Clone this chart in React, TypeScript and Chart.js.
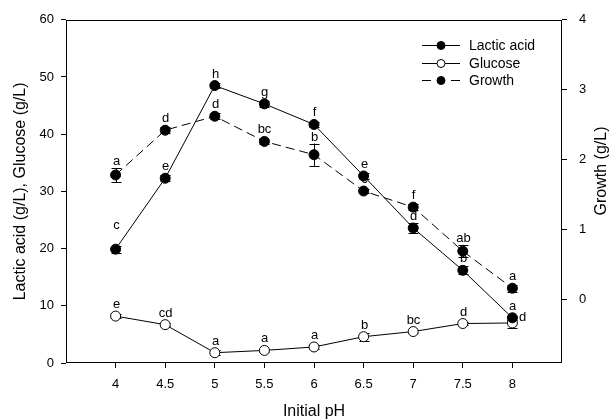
import React, { useEffect, useRef } from "react";
import { Chart, registerables } from "chart.js";

Chart.register(...registerables);

// ---- data ----
const phValues = [4, 4.5, 5, 5.5, 6, 6.5, 7, 7.5, 8];

const lacticAcid = [19.9, 32.3, 48.5, 45.3, 41.7, 32.7, 23.6, 16.2, 7.9];
const lacticErr = [0.6, 0.5, 0.5, 0.5, 0.4, 0.5, 0.9, 0.7, 0.3];
const lacticLetters = ["c", "e", "h", "g", "f", "e", "d", "b", "a"];

const glucose = [8.2, 6.7, 1.8, 2.2, 2.8, 4.6, 5.5, 6.9, 7.0];
const glucoseErr = [0.3, 0.3, 0.4, 0.3, 0.3, 0.7, 0.3, 0.3, 0.8];
const glucoseLetters = ["e", "cd", "a", "a", "a", "b", "bc", "d", "d"];

const growth = [1.78, 2.42, 2.62, 2.26, 2.07, 1.55, 1.32, 0.69, 0.16];
const growthErr = [0.1, 0.04, 0.04, 0.04, 0.16, 0.03, 0.04, 0.09, 0.05];
const growthLetters = ["a", "d", "d", "bc", "b", "c", "f", "ab", "a"];

const xTicks = [4, 4.5, 5, 5.5, 6, 6.5, 7, 7.5, 8];
const leftTicks = [0, 10, 20, 30, 40, 50, 60];
const rightTicks = [0, 1, 2, 3, 4];

const seriesNames = ["Lactic acid", "Glucose", "Growth"];
const rightTitle = "Growth (g/L)";

const FONT = "Arial, 'Liberation Sans', sans-serif";

const labelNudges: Record<string, [number, number]> = {
  "0-0": [0, -12],
  "1-8": [10, 6],
};

const series = [
  { values: lacticAcid, errors: lacticErr, letters: lacticLetters, axis: "y", fill: "#000000", dash: [] as number[] },
  { values: glucose, errors: glucoseErr, letters: glucoseLetters, axis: "y", fill: "#ffffff", dash: [] as number[] },
  { values: growth, errors: growthErr, letters: growthLetters, axis: "y1", fill: "#000000", dash: [9, 5] },
];

const extrasPlugin = {
  id: "extras",
  beforeDatasetsDraw(chart: any) {
    const ctx = chart.ctx;
    const xs = chart.scales.x;
    ctx.save();
    ctx.strokeStyle = "#000";
    ctx.fillStyle = "#000";
    ctx.lineWidth = 1;
    ctx.font = `13px ${FONT}`;
    ctx.textAlign = "center";
    ctx.textBaseline = "alphabetic";
    series.forEach((s, si) => {
      const ys = chart.scales[s.axis];
      s.values.forEach((v, i) => {
        const px = Math.round(xs.getPixelForValue(phValues[i])) + 0.5;
        const py = ys.getPixelForValue(v);
        const top = ys.getPixelForValue(v + s.errors[i]);
        const bot = ys.getPixelForValue(v - s.errors[i]);
        ctx.beginPath();
        ctx.moveTo(px, top);
        ctx.lineTo(px, bot);
        ctx.moveTo(px - 5, Math.round(top) + 0.5);
        ctx.lineTo(px + 5, Math.round(top) + 0.5);
        ctx.moveTo(px - 5, Math.round(bot) + 0.5);
        ctx.lineTo(px + 5, Math.round(bot) + 0.5);
        ctx.stroke();
        const errPx = py - top;
        const nudge = labelNudges[`${si}-${i}`] || [0, 0];
        const baseY = errPx > 5 ? top - 3 : py - 8;
        ctx.fillText(s.letters[i], px + nudge[0], baseY + nudge[1]);
      });
    });
    ctx.restore();
  },
  afterDraw(chart: any) {
    const ctx = chart.ctx;
    const a = chart.chartArea;
    ctx.save();
    ctx.strokeStyle = "#000";
    ctx.lineWidth = 1;
    ctx.strokeRect(Math.round(a.left) + 0.5, Math.round(a.top) + 0.5, Math.round(a.right - a.left) - 1, Math.round(a.bottom - a.top) - 1);

    // right axis title (reads bottom-to-top)
    ctx.save();
    ctx.translate(602, 171);
    ctx.rotate(-Math.PI / 2);
    ctx.font = `16px ${FONT}`;
    ctx.fillStyle = "#000";
    ctx.textAlign = "center";
    ctx.textBaseline = "middle";
    ctx.fillText(rightTitle, 0, 0);
    ctx.restore();

    // legend
    const lx0 = 422, lx1 = 460, mx = 441, tx = 469;
    const rows = [45, 63, 80];
    ctx.font = `14px ${FONT}`;
    ctx.textBaseline = "middle";
    ctx.textAlign = "left";
    series.forEach((s, si) => {
      const y = rows[si];
      ctx.beginPath();
      if (s.dash.length) {
        ctx.moveTo(lx0, y + 0.5);
        ctx.lineTo(lx0 + 9, y + 0.5);
        ctx.moveTo(lx1 - 9, y + 0.5);
        ctx.lineTo(lx1, y + 0.5);
      } else {
        ctx.moveTo(lx0, y + 0.5);
        ctx.lineTo(lx1, y + 0.5);
      }
      ctx.stroke();
      ctx.beginPath();
      ctx.arc(mx, y + 0.5, 4, 0, Math.PI * 2);
      ctx.fillStyle = s.fill;
      ctx.fill();
      ctx.stroke();
      ctx.fillStyle = "#000";
      ctx.fillText(seriesNames[si], tx, y + 1);
    });
    ctx.restore();
  },
};

export default function App() {
  const canvasRef = useRef<HTMLCanvasElement | null>(null);

  useEffect(() => {
    document.body.style.margin = "0";
    const canvas = canvasRef.current;
    if (!canvas) return;
    const datasets = series.map((s, si) => ({
      label: seriesNames[si],
      data: phValues.map((x, i) => ({ x, y: s.values[i] })),
      yAxisID: s.axis,
      borderColor: "#000000",
      borderWidth: 1,
      borderDash: s.dash,
      backgroundColor: s.fill,
      pointBackgroundColor: s.fill,
      pointBorderColor: "#000000",
      pointBorderWidth: 1,
      pointRadius: 5,
      pointHoverRadius: 5,
      tension: 0,
      fill: false,
    }));

    const tickFont = { family: FONT, size: 13 };
    const titleFont = { family: FONT, size: 16, lineHeight: 1 };

    const chart = new Chart(canvas, {
      type: "line",
      data: { datasets },
      plugins: [extrasPlugin],
      options: {
        animation: false,
        responsive: false,
        devicePixelRatio: 1,
        layout: { padding: { top: 17, left: 0, right: 0, bottom: 0 } },
        plugins: { legend: { display: false }, tooltip: { enabled: false } },
        scales: {
          x: {
            type: "linear",
            position: "bottom",
            min: 3.5,
            max: 8.5,
            afterBuildTicks: (s: any) => { s.ticks = xTicks.map((v) => ({ value: v })); },
            afterFit: (s: any) => { s.height = 57; },
            grid: { drawOnChartArea: false, drawTicks: true, tickLength: 5, color: "#000" },
            border: { display: false },
            ticks: { color: "#000", font: tickFont, padding: 9, maxRotation: 0, callback: (v: any) => String(v) },
            title: { display: true, text: "Initial pH", color: "#000", font: titleFont, padding: { top: 0, bottom: 0 } },
          },
          y: {
            type: "linear",
            position: "left",
            min: 0,
            max: 60,
            afterBuildTicks: (s: any) => { s.ticks = leftTicks.map((v) => ({ value: v })); },
            afterFit: (s: any) => { s.width = 66; },
            grid: { drawOnChartArea: false, drawTicks: true, tickLength: 5, color: "#000" },
            border: { display: false },
            ticks: { color: "#000", font: tickFont, padding: 7 },
            title: { display: true, text: "Lactic acid (g/L), Glucose (g/L)", color: "#000", font: titleFont, padding: { top: 13, bottom: 0 } },
          },
          y1: {
            type: "linear",
            position: "right",
            min: -0.91,
            max: 4,
            afterBuildTicks: (s: any) => { s.ticks = rightTicks.map((v) => ({ value: v })); },
            afterFit: (s: any) => { s.width = 49; },
            grid: { drawOnChartArea: false, drawTicks: true, tickLength: 5, color: "#000" },
            border: { display: false },
            ticks: { color: "#000", font: tickFont, padding: 12 },
            title: { display: false },
          },
        },
      } as any,
    });
    return () => chart.destroy();
  }, []);

  return <canvas ref={canvasRef} width={611} height={420} style={{ display: "block" }} />;
}
